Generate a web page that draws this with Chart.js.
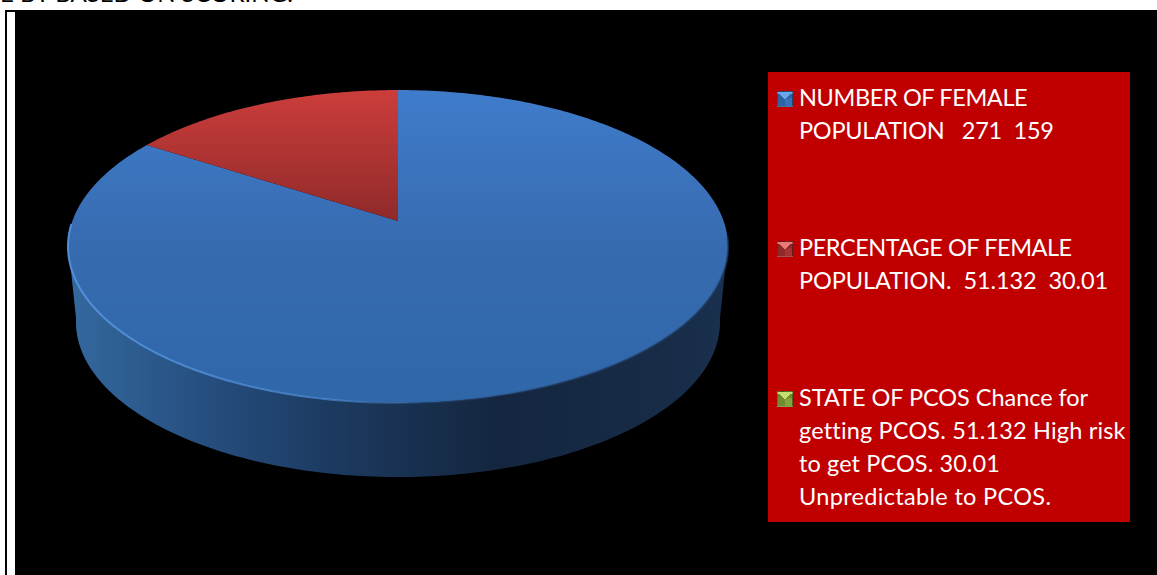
<!DOCTYPE html>
<html>
<head>
<meta charset="utf-8">
<title>PCOS pie</title>
<script src="https://cdn.jsdelivr.net/npm/chart.js@4/dist/chart.umd.min.js"></script>
<style>
    html, body { margin: 0; padding: 0; background: #fff; overflow: hidden; }
    #heading { position: absolute; left: 0; top: -22px; font: 24px/30px Lato, sans-serif; color: #000; white-space: pre; }
    #frame { position: absolute; left: 5px; top: 10px; right: 0; bottom: 0; background: #000; }
    #strip { position: absolute; left: 7px; top: 12px; width: 8px; bottom: 0; background: #fff; }
    #pie { position: absolute; left: 0; top: 0; }
    #legend { position: absolute; left: 768px; top: 72px; width: 362px; height: 450px; background: #c00000; }
    .item { position: absolute; left: 31px; color: #fff; font: 23.5px/33px Lato, sans-serif; white-space: pre; }
    .swatch { position: absolute; left: 9px; width: 16px; height: 16px; box-sizing: border-box; border: 1px solid rgba(0,0,0,.3); }
</style>
</head>
<body>
<div id="heading">E BY BASED ON SCORING.</div>
<div id="frame"></div>
<div id="strip"></div>
<canvas id="pie" width="1157" height="575"></canvas>
<div id="legend"></div>
<script>
const categories = [
    ['NUMBER OF FEMALE', 'POPULATION   271  159'],
    ['PERCENTAGE OF FEMALE', 'POPULATION.  51.132  30.01'],
    ['STATE OF PCOS Chance for', 'getting PCOS. 51.132 High risk', 'to get PCOS. 30.01', 'Unpredictable to PCOS.']
];
const seriesValues = [271, 51.132, 0];
const sliceColors = ['#3a70b8', '#b53534', '#8eb040'];
const swatchShades = [
    ['#69a6ea', '#2f62a3', '#3a70b8'],
    ['#e87a78', '#8c2a2a', '#a83232'],
    ['#c5e070', '#6f8c30', '#86a63c']
];
// tracking per legend line, the caps run tight and the lowercase loose
const lineTracking = [[-0.38, -0.24], [-0.45, -0.08], [-0.04, 0.17, 0.1, 0.32]];

// tilted disc: far half squeezed, near half stretched
const facePlane = { cx: 398, y0: 221, w: 325.6, s: 152.3 };
const basePlane = { cx: 398, y0: 297, w: 317.7, s: 150.7 };
const persp = 0.163;

function project(plane, angle) {
    const u = Math.cos(angle), v = Math.sin(angle);
    const d = 1 - persp * v;
    return [plane.cx + plane.w * u / d, plane.y0 + plane.s * v / d];
}

function edgePoints(plane, from, to) {
    const steps = Math.max(2, Math.ceil((to - from) * 60));
    const pts = [];
    for (let i = 0; i <= steps; i++) {
        pts.push(project(plane, from + (to - from) * i / steps));
    }
    return pts;
}

function gradient(ctx, x0, y0, x1, y1, stops) {
    const g = ctx.createLinearGradient(x0, y0, x1, y1);
    stops.forEach(st => g.addColorStop(st[0], st[1]));
    return g;
}

const faceFills = [
    [[0, '#3f7ccb'], [0.5, '#376bb0'], [1, '#2f67a9']],
    [[0, '#cc3d3b'], [1, '#8f2a2a']],
    [[0, '#a4c850'], [1, '#6e8a30']]
];
const wallFills = [
    [[0, '#34699f'], [0.2, '#264f80'], [0.4, '#1c3a60'], [0.65, '#14263f'], [0.95, '#182d49'], [1, '#1a3150']],
    [[0, '#5c1a1a'], [1, '#5c1a1a']],
    [[0, '#4a5e20'], [1, '#4a5e20']]
];

const discPlugin = {
    id: 'disc',
    beforeDatasetDraw(chart, args) {
        const ctx = chart.ctx;
        const arcs = chart.getDatasetMeta(args.index).data;

        // side wall first, one quad per step along the near edge
        arcs.forEach((arc, i) => {
            if (arc.circumference === 0) return;
            const upper = edgePoints(facePlane, arc.startAngle, arc.endAngle);
            const lower = edgePoints(basePlane, arc.startAngle, arc.endAngle);
            const step = (arc.endAngle - arc.startAngle) / (upper.length - 1);
            ctx.beginPath();
            for (let n = 0; n < upper.length - 1; n++) {
                if (Math.sin(arc.startAngle + (n + 0.5) * step) < persp - 0.02) continue;
                ctx.moveTo(upper[n][0], upper[n][1]);
                ctx.lineTo(upper[n + 1][0], upper[n + 1][1]);
                ctx.lineTo(lower[n + 1][0], lower[n + 1][1]);
                ctx.lineTo(lower[n][0], lower[n][1]);
                ctx.closePath();
            }
            ctx.fillStyle = gradient(ctx, 68, 0, 728, 0, wallFills[i]);
            ctx.fill();
        });

        arcs.forEach((arc, i) => {
            if (arc.circumference === 0) return;
            const pts = edgePoints(facePlane, arc.startAngle, arc.endAngle);
            const ys = pts.map(p => p[1]).concat(facePlane.y0);
            ctx.beginPath();
            ctx.moveTo(facePlane.cx, facePlane.y0);
            pts.forEach(p => ctx.lineTo(p[0], p[1]));
            ctx.closePath();
            ctx.fillStyle = gradient(ctx, 0, Math.min(...ys), 0, Math.max(...ys), faceFills[i]);
            ctx.fill();
        });

        // rim: bright on the lit left side, soft and dark on the right
        ctx.beginPath();
        edgePoints(facePlane, 0.1, Math.PI - 0.02).forEach((p, n) => n ? ctx.lineTo(p[0], p[1]) : ctx.moveTo(p[0], p[1]));
        ctx.lineWidth = 2;
        ctx.strokeStyle = gradient(ctx, 68, 0, 728, 0, [
            [0, 'rgba(85,150,225,.9)'],
            [0.4, 'rgba(85,150,225,.6)'],
            [0.55, 'rgba(50,90,140,.3)'],
            [1, 'rgba(30,60,100,.7)']
        ]);
        ctx.stroke();
        return false;
    }
};

new Chart(document.getElementById('pie'), {
    type: 'pie',
    data: {
        labels: categories.map(c => c.join(' ')),
        datasets: [{ data: seriesValues, backgroundColor: sliceColors }]
    },
    options: {
        responsive: false,
        animation: false,
        plugins: { legend: { display: false }, tooltip: { enabled: false } }
    },
    plugins: [discPlugin]
});

// legend box, one entry every 150px
const legend = document.getElementById('legend');
categories.forEach((lines, i) => {
    lines.forEach((line, k) => {
        const text = document.createElement('div');
        text.className = 'item';
        text.style.top = (9 + i * 150 + k * 33) + 'px';
        text.style.letterSpacing = lineTracking[i][k] + 'px';
        text.textContent = line;
        legend.appendChild(text);
    });

    const shade = swatchShades[i];
    const swatch = document.createElement('div');
    swatch.className = 'swatch';
    swatch.style.top = (19 + i * 150) + 'px';
    swatch.style.background = `conic-gradient(from -50deg, ${shade[0]} 0 100deg, ${shade[1]} 100deg 130deg, ${shade[2]} 130deg 230deg, ${shade[1]} 230deg 360deg)`;
    legend.appendChild(swatch);
});
</script>
</body>
</html>
